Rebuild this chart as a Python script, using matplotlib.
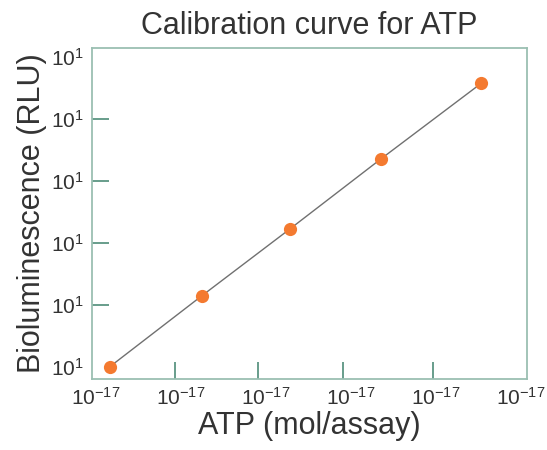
import matplotlib
matplotlib.use("Agg")
import matplotlib.pyplot as plt
from matplotlib import font_manager
from matplotlib.ticker import FixedLocator, FixedFormatter, NullFormatter

# Data
atp = [1.46e-17, 1.75e-16, 1.91e-15, 2.25e-14, 3.39e-13]
rlu = [10.0, 138, 1660, 2.24e4, 3.7e5]

x_ticks = [1e-17, 1e-16, 1e-15, 1e-14, 1e-13, 1e-12]
x_labels = [r"$10^{-17}$"] * 6
x_marks = [10**-16.071, 10**-15.094, 10**-14.094, 10**-13.035]
y_ticks = [1e1, 1e2, 1e3, 1e4, 1e5, 1e6]
y_labels = [r"$10^{1}$"] * 6
y_marks = [1e2, 1e3, 1e4, 1e5]

names = {f.name for f in font_manager.fontManager.ttflist}
narrow = 'Liberation Sans Narrow' if 'Liberation Sans Narrow' in names else 'Liberation Sans'
tick_size = 18 if narrow == 'Liberation Sans Narrow' else 15

plt.rcParams['font.family'] = ['Liberation Sans', 'DejaVu Sans']
plt.rcParams['mathtext.fontset'] = 'custom'
plt.rcParams['mathtext.rm'] = narrow
plt.rcParams['mathtext.it'] = narrow

text_c = '#333333'
spine_c = '#9bbfb2'
tick_c = '#4e8c78'
orange = '#f47a30'

fig = plt.figure(figsize=(5.47, 4.5), dpi=100)
ax = fig.add_axes([92/547, 1-379/450, (527-92)/547, (379-48)/450])
ax.set_xscale('log')
ax.set_yscale('log')
ax.set_xlim(10**-17.047, 10**-11.929)
ax.set_ylim(10**0.80, 10**6.14)

ax.plot(atp, rlu, color='#707070', lw=1.0, zorder=2)
ax.plot(atp, rlu, 'o', color=orange, ms=9.5, mec='none', zorder=3)

ax.xaxis.remove_overlapping_locs = False
ax.yaxis.remove_overlapping_locs = False
ax.xaxis.set_major_locator(FixedLocator(x_ticks))
ax.xaxis.set_major_formatter(FixedFormatter(x_labels))
ax.yaxis.set_major_locator(FixedLocator(y_ticks))
ax.yaxis.set_major_formatter(FixedFormatter(y_labels))
ax.xaxis.set_minor_locator(FixedLocator(x_marks))
ax.yaxis.set_minor_locator(FixedLocator(y_marks))
ax.xaxis.set_minor_formatter(NullFormatter())
ax.yaxis.set_minor_formatter(NullFormatter())

ax.tick_params(which='major', length=0, labelsize=tick_size, labelcolor=text_c, pad=6)
ax.tick_params(which='minor', direction='in', length=12, width=1.2, color=tick_c)

for s in ax.spines.values():
    s.set_color(spine_c)
    s.set_linewidth(1.3)

ax.set_title('Calibration curve for ATP', fontsize=22, color=text_c, pad=10)
ax.set_xlabel('ATP (mol/assay)', fontsize=22, color=text_c, labelpad=1)
ax.set_ylabel('Bioluminescence (RLU)', fontsize=22, color=text_c, labelpad=3)

fig.savefig('out.png', dpi=100)
